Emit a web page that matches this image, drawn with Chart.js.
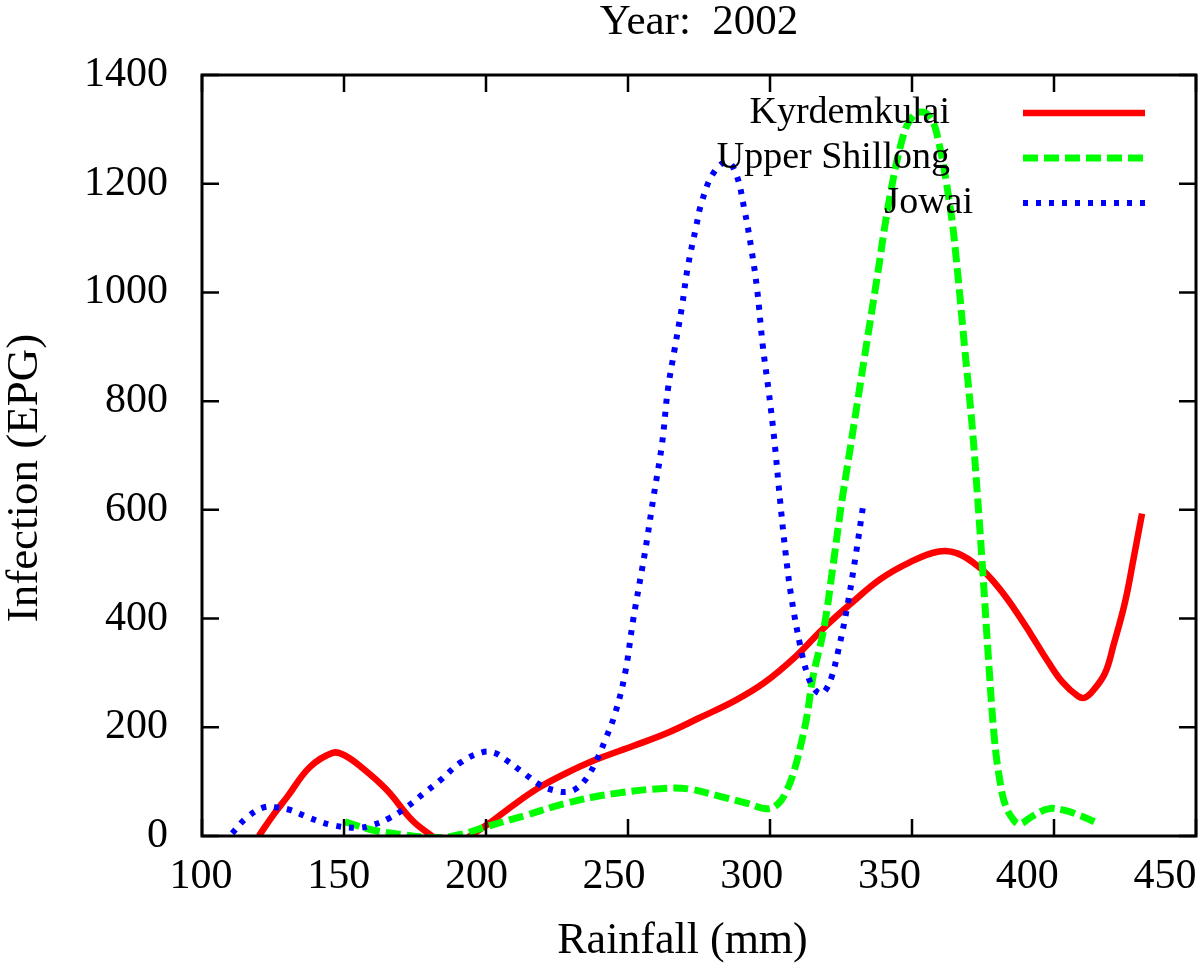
<!DOCTYPE html>
<html>
<head>
<meta charset="utf-8">
<title>Year: 2002</title>
<script src="https://cdn.jsdelivr.net/npm/chart.js@4.4.1/dist/chart.umd.min.js"></script>
<style>
  html, body { margin: 0; padding: 0; background: #fff; }
  #wrap { width: 1200px; height: 966px; }
</style>
</head>
<body>
<div id="wrap"><canvas id="rainChart" width="1200" height="966"></canvas></div>
<script>
// values (rainfall in mm, infection in EPG)
const kyrRain = [120, 125, 130, 138, 146, 150, 156, 165, 174, 181, 185, 190, 194.4, 201, 211, 219, 228, 239, 252, 264,
                 275, 288, 298, 309, 319, 329, 339, 349, 359, 366, 374, 380, 386, 392, 398, 403, 408.5, 411, 414, 418,
                 421, 425, 428, 431];
const kyrEpg = [0, 38, 72, 127, 153, 149, 127, 85, 29, 0, -14, -16, 0, 23, 62, 90, 115, 141, 166, 190,
                217, 250, 282, 330, 383, 430, 473, 503, 523, 520, 493, 460, 418, 370, 320, 283, 257, 255, 269, 300,
                352, 430, 510, 593];

const shilRain = [150.4, 160, 170, 183, 192, 200, 214, 228, 245, 264, 272, 283, 292, 299, 303, 306, 308.5, 310.6, 313, 315,
                  319, 322, 325, 328, 331, 334, 337.5, 342, 347, 350, 353, 356, 358.7, 363.4, 366, 368.5, 371, 373, 375, 377,
                  379, 381, 383, 386, 388, 392, 398, 403, 409, 416];
const shilEpg = [26, 11, 3, -3, 4, 17, 38, 60, 78, 88, 86, 72, 60, 50, 60, 85, 120, 162, 220, 289,
                 383, 490, 605, 705, 805, 905, 1020, 1170, 1290, 1322, 1332, 1325, 1293, 1158, 1040, 900, 765, 630, 480, 320,
                 180, 100, 55, 28, 22, 35, 50, 48, 38, 22];

const jowRain = [110.6, 116, 122, 127, 131, 138, 146, 154.6, 160, 166, 172, 178, 184, 191, 198.6, 203, 207, 213, 219, 224,
                 228.5, 232, 235.6, 239, 242, 245.5, 249, 251.8, 256, 259, 262, 264, 266.5, 269, 271, 274, 276, 280, 284.7, 288,
                 291, 293.5, 295.5, 297.5, 299.5, 301.5, 303.5, 305.5, 307.5, 310.6, 313, 315.4, 318, 320, 321.8, 324, 327, 330, 333];
const jowEpg = [5, 35, 53, 52, 48, 33, 20, 15, 20, 33, 53, 78, 103, 135, 154, 153, 140, 117, 94, 84,
                81, 88, 108, 140, 177, 226, 300, 397, 523, 624, 722, 820, 898, 974, 1045, 1121, 1167, 1219, 1240, 1219,
                1152, 1078, 1004, 900, 820, 730, 620, 520, 440, 351, 300, 272, 262, 272, 294, 340, 416, 510, 615];

const seriesNames = ['Kyrdemkulai', 'Upper Shillong', 'Jowai'];
const xTicks = [100, 150, 200, 250, 300, 350, 400, 450];
const yTicks = [0, 200, 400, 600, 800, 1000, 1200, 1400];

const FONT = '"Liberation Serif", "Times New Roman", serif';

function toPoints(xs, ys) {
    return xs.map((x, i) => ({ x: x, y: ys[i] }));
}

// gnuplot style: ticks pointing inwards on all four sides, plus the frame
const frameTicks = {
    id: 'frameTicks',
    afterDatasetsDraw(chart) {
        const { ctx, chartArea: a, scales } = chart;
        const len = 17;
        ctx.save();
        ctx.strokeStyle = '#000';
        ctx.lineWidth = 2.5;
        ctx.beginPath();
        xTicks.forEach(v => {
            const px = scales.x.getPixelForValue(v);
            ctx.moveTo(px, a.bottom); ctx.lineTo(px, a.bottom - len);
            ctx.moveTo(px, a.top); ctx.lineTo(px, a.top + len);
        });
        yTicks.forEach(v => {
            const py = scales.y.getPixelForValue(v);
            ctx.moveTo(a.left, py); ctx.lineTo(a.left + len, py);
            ctx.moveTo(a.right, py); ctx.lineTo(a.right - len, py);
        });
        ctx.stroke();
        ctx.lineWidth = 3;
        ctx.strokeRect(a.left, a.top, a.right - a.left, a.bottom - a.top);
        ctx.restore();
    }
};

// key in the top right corner: label right aligned, then a line sample
const legendShift = [0, 0, 23];
const keyBox = {
    id: 'keyBox',
    afterDraw(chart) {
        const { ctx, chartArea: a } = chart;
        ctx.save();
        ctx.font = '38px ' + FONT;
        ctx.textAlign = 'right';
        ctx.textBaseline = 'middle';
        chart.data.datasets.forEach((ds, i) => {
            const y = a.top + 38 + i * 45;
            ctx.fillStyle = '#000';
            ctx.fillText(ds.label, a.right - 246 + legendShift[i], y);
            ctx.strokeStyle = ds.borderColor;
            ctx.lineWidth = ds.borderWidth;
            ctx.setLineDash(ds.borderDash || []);
            ctx.beginPath();
            ctx.moveTo(a.right - 173, y);
            ctx.lineTo(a.right - 51, y);
            ctx.stroke();
        });
        ctx.restore();
    }
};

function noSidePadding(scale) {
    scale.paddingLeft = 0;
    scale.paddingRight = 0;
}

const ctx = document.getElementById('rainChart').getContext('2d');
const chart = new Chart(ctx, {
    type: 'line',
    data: {
        datasets: [{
            label: seriesNames[0],
            data: toPoints(kyrRain, kyrEpg),
            borderColor: '#ff0000',
            borderWidth: 6.5,
            order: 3
        }, {
            label: seriesNames[1],
            data: toPoints(shilRain, shilEpg),
            borderColor: '#00ff00',
            borderWidth: 7,
            borderDash: [15, 6],
            order: 2
        }, {
            label: seriesNames[2],
            data: toPoints(jowRain, jowEpg),
            borderColor: '#0000ff',
            borderWidth: 6,
            borderDash: [5, 8],
            order: 1
        }]
    },
    options: {
        responsive: false,
        animation: false,
        elements: {
            point: { radius: 0 },
            line: { tension: 0.4, borderCapStyle: 'butt', fill: false }
        },
        layout: { padding: { left: 0, right: 4, top: 0, bottom: 0 } },
        plugins: {
            legend: { display: false },
            tooltip: { enabled: false },
            title: {
                display: true,
                fullSize: false,
                text: 'Year:  2002',
                color: '#000',
                font: { family: FONT, size: 43, weight: 'normal', lineHeight: 1 },
                padding: { top: 1, bottom: 31 }
            }
        },
        scales: {
            // data axis, its labels are drawn by the x2 axis below
            x: {
                type: 'linear',
                min: 100,
                max: 450,
                afterFit(scale) { scale.height = 0; noSidePadding(scale); },
                afterBuildTicks(scale) { scale.ticks = xTicks.map(v => ({ value: v })); },
                grid: { display: false, drawTicks: false },
                border: { display: false },
                ticks: { display: false }
            },
            // label axis: the reference spaces its tick labels a little tighter than its tick marks
            x2: {
                type: 'linear',
                position: 'bottom',
                min: 100.36,
                max: 461.3,
                afterFit(scale) { scale.height = 130; noSidePadding(scale); },
                afterBuildTicks(scale) { scale.ticks = xTicks.map(v => ({ value: v })); },
                grid: { display: false, drawTicks: false },
                border: { display: false },
                ticks: {
                    color: '#000', padding: 16, maxRotation: 0, autoSkip: false,
                    font: { family: FONT, size: 42 },
                    callback: v => String(v)
                },
                title: {
                    display: true,
                    text: 'Rainfall (mm)   ',
                    color: '#000',
                    font: { family: FONT, size: 44, lineHeight: 1 },
                    padding: { top: 0, bottom: 3 }
                }
            },
            y: {
                type: 'linear',
                min: 0,
                max: 1400,
                afterFit(scale) { scale.width = 202; },
                afterBuildTicks(scale) { scale.ticks = yTicks.map(v => ({ value: v })); },
                grid: { display: false, drawTicks: false },
                border: { display: false },
                ticks: {
                    color: '#000', padding: 34,
                    font: { family: FONT, size: 42 },
                    callback: v => String(v)
                },
                title: {
                    display: true,
                    text: 'Infection (EPG)    ',
                    color: '#000',
                    font: { family: FONT, size: 45, lineHeight: 1 },
                    padding: { top: 3, bottom: 0 }
                }
            }
        }
    },
    plugins: [frameTicks, keyBox]
});
</script>
</body>
</html>
